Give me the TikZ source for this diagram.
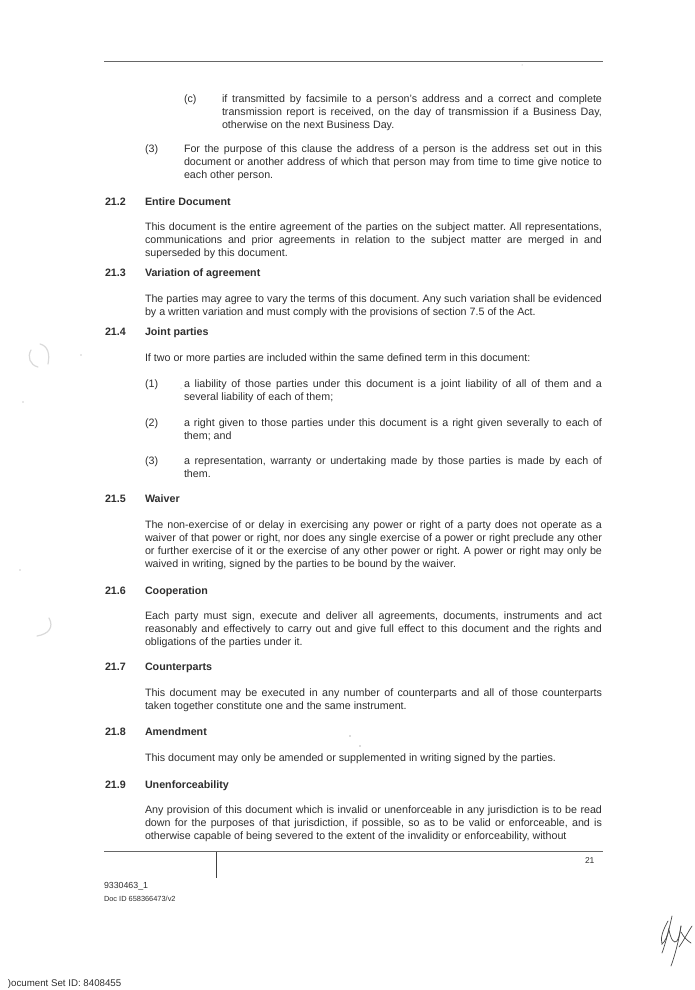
\documentclass[tikz,border=0pt]{standalone}
\usepackage{fontspec}
\setmainfont{Liberation Sans}
\usetikzlibrary{positioning}
\frenchspacing

\begin{document}
\begin{tikzpicture}[x=1pt,y=-1pt,
    every node/.style={inner sep=0pt,outer sep=0pt,yshift=-0.7pt,text=black!82,font=\fontsize{10.7}{12.9}\selectfont},
    para/.style={anchor=north west,align=justify,text width=457pt},
    item/.style={anchor=north west,align=justify,text width=418pt},
    sub/.style={anchor=north west,align=justify,text width=380pt},
    lab/.style={anchor=north west,text height=7.8pt,text depth=2pt},
    clause/.style={lab,font=\fontsize{10.7}{12.9}\selectfont\bfseries},
    smudge/.style={black!15,line width=1.2pt,line cap=round},
    speck/.style={fill=black!40,draw=none},
    rulebar/.style={black!60,line width=1pt},
    sign/.style={black!72,line width=0.7pt,line cap=round}]
  \useasboundingbox (0,0) rectangle (694,990);

% define the rules of the page
  \coordinate (t1) at (104,60.5);
  \coordinate (t2) at (603,60.5);
  \coordinate (b1) at (104,851);
  \coordinate (b2) at (603,851);
  \coordinate (tick1) at (216,851);
  \coordinate (tick2) at (216,877);
  \draw[rulebar] (t1) -- (t2);
  \draw[rulebar] (b1) -- (b2);
  \draw[black!75,line width=0.8pt] (tick1) -- (tick2);

% define the clause 21.1 leftovers
  \node[lab] (c)  at (184,94) {(c)};
  \node[sub] (pc) at (222,94) {if transmitted by facsimile to a person's address and a correct and complete\linebreak transmission report is received, on the day of transmission if a Business Day,\linebreak otherwise on the next Business Day.};
  \node[lab] (i3) at (145,144) {(3)};
  \node[item] (p3) at (184,144) {For the purpose of this clause the address of a person is the address set out in this\linebreak document or another address of which that person may from time to time give notice to\linebreak each other person.};

% define the clauses
  \node[clause] (n22) at (105,197) {21.2};
  \node[clause] (h22) at (145,197) {Entire Document};
  \node[para] (p22) at (145,222.5) {This document is the entire agreement of the parties on the subject matter. All representations,\linebreak communications and prior agreements in relation to the subject matter are merged in and\linebreak superseded by this document.};

  \node[clause] (n23) at (105,268) {21.3};
  \node[clause] (h23) at (145,268) {Variation of agreement};
  \node[para] (p23) at (145,294) {The parties may agree to vary the terms of this document. Any such variation shall be evidenced\linebreak by a written variation and must comply with the provisions of section 7.5 of the Act.};

  \node[clause] (n24) at (105,327) {21.4};
  \node[clause] (h24) at (145,327) {Joint parties};
  \node[para] (p24) at (145,353) {If two or more parties are included within the same defined term in this document:};
  \node[lab] (j1) at (145,379) {(1)};
  \node[item] (q1) at (184,379) {a liability of those parties under this document is a joint liability of all of them and a\linebreak several liability of each of them;};
  \node[lab] (j2) at (145,418) {(2)};
  \node[item] (q2) at (184,418) {a right given to those parties under this document is a right given severally to each of\linebreak them; and};
  \node[lab] (j3) at (145,456) {(3)};
  \node[item] (q3) at (184,456) {a representation, warranty or undertaking made by those parties is made by each of\linebreak them.};

  \node[clause] (n25) at (105,494) {21.5};
  \node[clause] (h25) at (145,494) {Waiver};
  \node[para] (p25) at (145,520) {The non-exercise of or delay in exercising any power or right of a party does not operate as a\linebreak waiver of that power or right, nor does any single exercise of a power or right preclude any other\linebreak or further exercise of it or the exercise of any other power or right. A power or right may only be\linebreak waived in writing, signed by the parties to be bound by the waiver.};

  \node[clause] (n26) at (105,586) {21.6};
  \node[clause] (h26) at (145,586) {Cooperation};
  \node[para] (p26) at (145,611) {Each party must sign, execute and deliver all agreements, documents, instruments and act\linebreak reasonably and effectively to carry out and give full effect to this document and the rights and\linebreak obligations of the parties under it.};

  \node[clause] (n27) at (105,662) {21.7};
  \node[clause] (h27) at (145,662) {Counterparts};
  \node[para] (p27) at (145,688) {This document may be executed in any number of counterparts and all of those counterparts\linebreak taken together constitute one and the same instrument.};

  \node[clause] (n28) at (105,727) {21.8};
  \node[clause] (h28) at (145,727) {Amendment};
  \node[para] (p28) at (145,753) {This document may only be amended or supplemented in writing signed by the parties.};

  \node[clause] (n29) at (105,780) {21.9};
  \node[clause] (h29) at (145,780) {Unenforceability};
  \node[para] (p29) at (145,805) {Any provision of this document which is invalid or unenforceable in any jurisdiction is to be read\linebreak down for the purposes of that jurisdiction, if possible, so as to be valid or enforceable, and is\linebreak otherwise capable of being severed to the extent of the invalidity or enforceability, without};

% define the footer
  \node[lab,font=\fontsize{8.5}{10}\selectfont] (page) at (585,855) {21};
  \node[lab,font=\fontsize{8.8}{10}\selectfont] (ref) at (104,880) {9330463\_1};
  \node[lab,font=\fontsize{7.4}{8}\selectfont] (doc) at (104,893) {Doc ID 658366473/v2};
  \node[lab,font=\fontsize{9.7}{10}\selectfont] (set) at (8,978) {)ocument Set ID: 8408455};

% define the marks in the margin
  \draw[smudge] (40,344) .. controls (48,346) and (50,354) .. (48,364);
  \draw[smudge] (31,350) .. controls (27,357) and (30,365) .. (38,367);
  \draw[smudge] (49,618) .. controls (54,627) and (49,634) .. (37,636);
  \fill[speck] (81,355) circle (0.7);
  \fill[speck] (23,402) circle (0.6);
  \fill[speck] (20,570) circle (0.6);
  \fill[speck] (181,388) circle (0.5);
  \fill[speck] (522,65) circle (0.5);
  \fill[black!60] (350,736) circle (0.7);
  \fill[black!60] (360,746) circle (0.7);

% define the signature
  \draw[sign] (672,916) .. controls (669,930) and (665,945) .. (662,953);
  \draw[sign] (668,921) .. controls (663,930) and (660,938) .. (662,944) .. controls (665,942) and (668,935) .. (669,928);
  \draw[sign] (669,930) .. controls (671,940) and (674,944) .. (677,941) .. controls (680,936) and (680,930) .. (681,926);
  \draw[sign] (681,926) .. controls (679,940) and (675,955) .. (671,966);
  \draw[sign] (681,932) .. controls (684,938) and (688,941) .. (691,943);
  \draw[sign] (692,926) .. controls (688,932) and (684,940) .. (679,947);
\end{tikzpicture}
\end{document}
